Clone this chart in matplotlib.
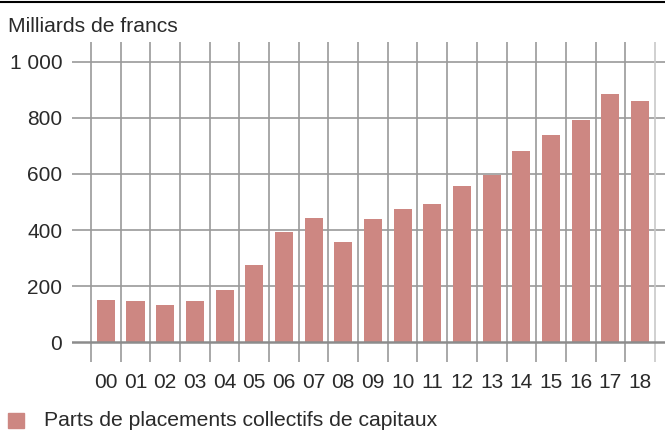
import matplotlib.pyplot as plt
from matplotlib.lines import Line2D
from matplotlib.patches import Rectangle

years = ['00', '01', '02', '03', '04', '05', '06', '07', '08', '09',
         '10', '11', '12', '13', '14', '15', '16', '17', '18']
values = [150, 146, 132, 146, 186, 275, 393, 443, 357, 439,
          475, 493, 557, 596, 683, 739, 793, 886, 861]
yticks = [0, 200, 400, 600, 800, 1000]
ytick_labels = ['0', '200', '400', '600', '800', '1 000']

plt.rcParams['font.family'] = ['Liberation Sans', 'DejaVu Sans']

W, H = 665, 433
fig = plt.figure(figsize=(W / 100, H / 100), dpi=100)
# axes box in pixels: x 72..665, y 42..362
ax = fig.add_axes([72 / W, 1 - 362 / H, (665 - 72) / W, (362 - 42) / H])

bar_color = '#cd8782'
grid_color = '#9a9a9a'
text_color = '#2a2a2a'

x = list(range(len(years)))
ax.set_xlim(-1.14, 18.84)
ax.set_ylim(-71.4, 1071.4)

for t in yticks[1:]:
    ax.axhline(t, color=grid_color, lw=1.2, zorder=1)
for i in range(len(years) + 1):
    c = '#c8c8c8' if i == len(years) else grid_color
    ax.axvline(i - 0.5, color=c, lw=1.2, zorder=1)

ax.bar(x, values, width=0.61, color=bar_color, zorder=2)
ax.axhline(0, color='#8c8c8c', lw=1.8, zorder=3)

ax.set_xticks(x)
ax.set_xticklabels(years)
ax.set_yticks(yticks)
ax.set_yticklabels(ytick_labels)
ax.tick_params(length=0, labelsize=15, colors=text_color)
ax.tick_params(axis='y', pad=7)
ax.tick_params(axis='x', pad=8)
for s in ax.spines.values():
    s.set_visible(False)

fig.add_artist(Line2D([0, 1], [1 - 1.5 / H, 1 - 1.5 / H], color='black', lw=1.5))
fig.text(8 / W, 1 - 27 / H, 'Milliards de francs', fontsize=15.2,
         color=text_color, va='center', ha='left')

fig.patches.append(Rectangle((8 / W, 1 - 428 / H), 16 / W, 15 / H,
                             transform=fig.transFigure, color=bar_color))
fig.text(44 / W, 1 - 421 / H, 'Parts de placements collectifs de capitaux',
         fontsize=15.2, color=text_color, va='center', ha='left')

fig.savefig('out.png', dpi=100)
